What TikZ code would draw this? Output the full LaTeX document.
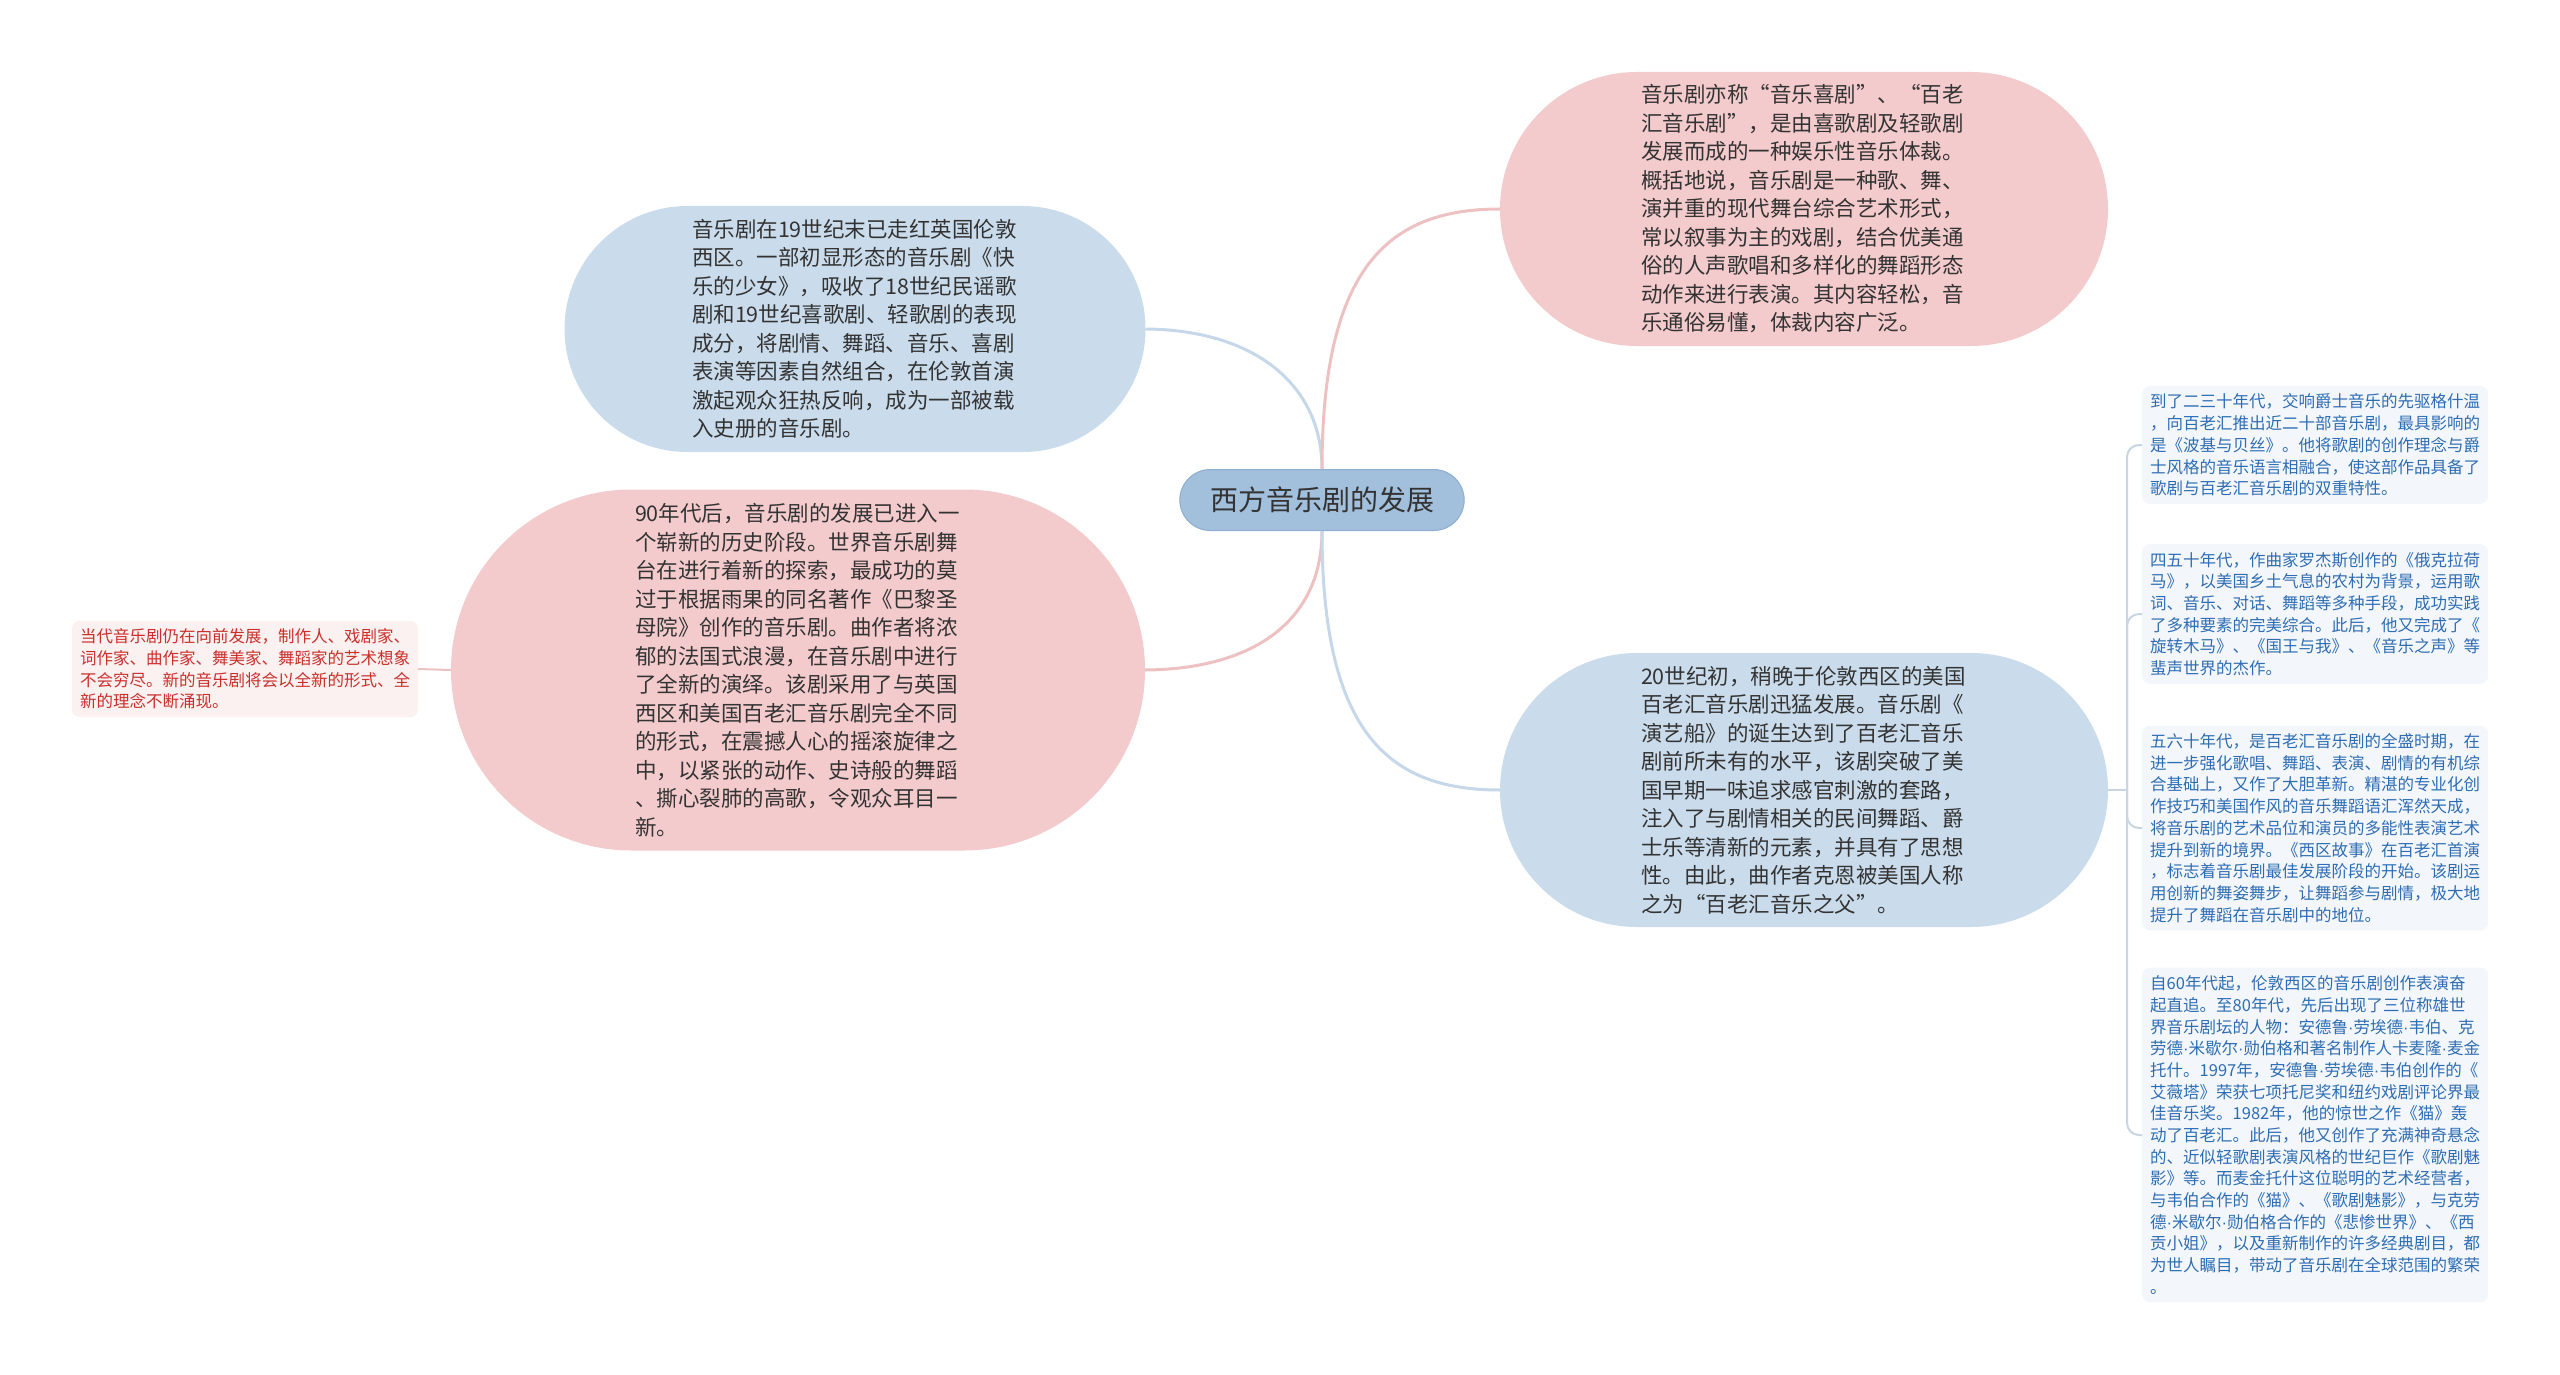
\documentclass[tikz,border=0pt]{standalone}
\usepackage{fontspec}
\setmainfont{Noto Sans CJK SC}
\newfontfamily\narrowdotfont{Liberation Sans}
\newcommand{\mdot}{{\narrowdotfont ·}}
\usetikzlibrary{shapes.misc}
\definecolor{pinkfill}{HTML}{F4CBCD}
\definecolor{bluefill}{HTML}{CADCEC}
\definecolor{rootfill}{HTML}{A2BFDC}
\definecolor{rootline}{HTML}{8DAED0}
\definecolor{pinkline}{HTML}{EDC0C2}
\definecolor{blueline}{HTML}{C5D7E9}
\definecolor{spinecol}{HTML}{C9D5E2}
\definecolor{redtext}{HTML}{C9302C}
\definecolor{bluetext}{HTML}{2F6DB3}
\definecolor{leafblue}{HTML}{F3F7FB}
\definecolor{leafpink}{HTML}{FCF1F1}
\definecolor{ink}{HTML}{333333}
\begin{document}
\begin{tikzpicture}[x=1pt,y=-1pt,
  bigpill/.style={rounded rectangle, text width=326pt, align=left, text=ink,
    font=\fontsize{21.5}{28.5}\selectfont, inner sep=0pt},
  leafbox/.style={rectangle, rounded corners=8pt, text width=330pt, align=left,
    inner xsep=8pt, inner ysep=8pt, font=\fontsize{16.5}{21.7}\selectfont},
  pinkconn/.style={draw=pinkline, line width=3pt},
  blueconn/.style={draw=blueline, line width=3pt},
  spineconn/.style={draw=spinecol, line width=2pt, rounded corners=12pt}
]
\useasboundingbox (0,0) rectangle (2560,1375);

% root
\node[rounded rectangle, fill=rootfill, draw=rootline, line width=1pt,
  minimum width=291pt, minimum height=61pt,
  font=\fontsize{28}{32}\selectfont, text=ink] (root) at (1322,500) {西方音乐剧的发展};

% main branches
\node[bigpill, fill=bluefill, minimum width=581pt, minimum height=246pt] (n1) at (855,329) {%
音乐剧在19世纪末已走红英国伦敦\\
西区。一部初显形态的音乐剧《快\\
乐的少女》，吸收了18世纪民谣歌\\
剧和19世纪喜歌剧、轻歌剧的表现\\
成分，将剧情、舞蹈、音乐、喜剧\\
表演等因素自然组合，在伦敦首演\\
激起观众狂热反响，成为一部被载\\
入史册的音乐剧。};

\node[bigpill, fill=pinkfill, minimum width=694pt, minimum height=361pt] (n2) at (798,670) {%
90年代后，音乐剧的发展已进入一\\
个崭新的历史阶段。世界音乐剧舞\\
台在进行着新的探索，最成功的莫\\
过于根据雨果的同名著作《巴黎圣\\
母院》创作的音乐剧。曲作者将浓\\
郁的法国式浪漫，在音乐剧中进行\\
了全新的演绎。该剧采用了与英国\\
西区和美国百老汇音乐剧完全不同\\
的形式，在震撼人心的摇滚旋律之\\
中，以紧张的动作、史诗般的舞蹈\\
、撕心裂肺的高歌，令观众耳目一\\
新。};

\node[bigpill, fill=pinkfill, minimum width=608pt, minimum height=274pt] (n4) at (1804,209) {%
音乐剧亦称“音乐喜剧”、“百老\\
汇音乐剧”，是由喜歌剧及轻歌剧\\
发展而成的一种娱乐性音乐体裁。\\
概括地说，音乐剧是一种歌、舞、\\
演并重的现代舞台综合艺术形式，\\
常以叙事为主的戏剧，结合优美通\\
俗的人声歌唱和多样化的舞蹈形态\\
动作来进行表演。其内容轻松，音\\
乐通俗易懂，体裁内容广泛。};

\node[bigpill, fill=bluefill, minimum width=608pt, minimum height=274pt] (n5) at (1804,790) {%
20世纪初，稍晚于伦敦西区的美国\\
百老汇音乐剧迅猛发展。音乐剧《\\
演艺船》的诞生达到了百老汇音乐\\
剧前所未有的水平，该剧突破了美\\
国早期一味追求感官刺激的套路，\\
注入了与剧情相关的民间舞蹈、爵\\
士乐等清新的元素，并具有了思想\\
性。由此，曲作者克恩被美国人称\\
之为“百老汇音乐之父”。};

% left leaf
\node[leafbox, fill=leafpink, text=redtext] (n3) at (245,669) {%
当代音乐剧仍在向前发展，制作人、戏剧家、\\
词作家、曲作家、舞美家、舞蹈家的艺术想象\\
不会穷尽。新的音乐剧将会以全新的形式、全\\
新的理念不断涌现。};

% right leaves
\node[leafbox, fill=leafblue, text=bluetext, anchor=west] (la) at (2142,445) {%
到了二三十年代，交响爵士音乐的先驱格什温\\
，向百老汇推出近二十部音乐剧，最具影响的\\
是《波基与贝丝》。他将歌剧的创作理念与爵\\
士风格的音乐语言相融合，使这部作品具备了\\
歌剧与百老汇音乐剧的双重特性。};

\node[leafbox, fill=leafblue, text=bluetext, anchor=west] (lb) at (2142,614) {%
四五十年代，作曲家罗杰斯创作的《俄克拉荷\\
马》，以美国乡土气息的农村为背景，运用歌\\
词、音乐、对话、舞蹈等多种手段，成功实践\\
了多种要素的完美综合。此后，他又完成了《\\
旋转木马》、《国王与我》、《音乐之声》等\\
蜚声世界的杰作。};

\node[leafbox, fill=leafblue, text=bluetext, anchor=west] (lc) at (2142,828) {%
五六十年代，是百老汇音乐剧的全盛时期，在\\
进一步强化歌唱、舞蹈、表演、剧情的有机综\\
合基础上，又作了大胆革新。精湛的专业化创\\
作技巧和美国作风的音乐舞蹈语汇浑然天成，\\
将音乐剧的艺术品位和演员的多能性表演艺术\\
提升到新的境界。《西区故事》在百老汇首演\\
，标志着音乐剧最佳发展阶段的开始。该剧运\\
用创新的舞姿舞步，让舞蹈参与剧情，极大地\\
提升了舞蹈在音乐剧中的地位。};

\node[leafbox, fill=leafblue, text=bluetext, anchor=west] (ld) at (2142,1135) {%
自60年代起，伦敦西区的音乐剧创作表演奋\\
起直追。至80年代，先后出现了三位称雄世\\
界音乐剧坛的人物：安德鲁\mdot 劳埃德\mdot 韦伯、克\\
劳德\mdot 米歇尔\mdot 勋伯格和著名制作人卡麦隆\mdot 麦金\\
托什。1997年，安德鲁\mdot 劳埃德\mdot 韦伯创作的《\\
艾薇塔》荣获七项托尼奖和纽约戏剧评论界最\\
佳音乐奖。1982年，他的惊世之作《猫》轰\\
动了百老汇。此后，他又创作了充满神奇悬念\\
的、近似轻歌剧表演风格的世纪巨作《歌剧魅\\
影》等。而麦金托什这位聪明的艺术经营者，\\
与韦伯合作的《猫》、《歌剧魅影》，与克劳\\
德\mdot 米歇尔\mdot 勋伯格合作的《悲惨世界》、《西\\
贡小姐》，以及重新制作的许多经典剧目，都\\
为世人瞩目，带动了音乐剧在全球范围的繁荣\\
。};

% connectors from root
\draw[blueconn] (root.north) .. controls (1322,385) and (1255,330) .. (n1.east);
\draw[pinkconn] (root.south) .. controls (1322,620) and (1255,669) .. (n2.east);
\draw[pinkconn] (root.north) .. controls (1322,265) and (1390,209) .. (n4.west);
\draw[blueconn] (root.south) .. controls (1322,735) and (1390,790) .. (n5.west);

% n2 to left leaf
\draw[draw=pinkline, line width=2pt] (n2.west) -- (n3.east);

% right tree
\coordinate (j) at (2127,790);
\draw[spineconn] (n5.east) -- (j);
\draw[spineconn] (j) |- (la.west);
\draw[spineconn] (j) |- (lb.west);
\draw[spineconn] (j) |- (lc.west);
\draw[spineconn] (j) |- (ld.west);
\end{tikzpicture}
\end{document}
